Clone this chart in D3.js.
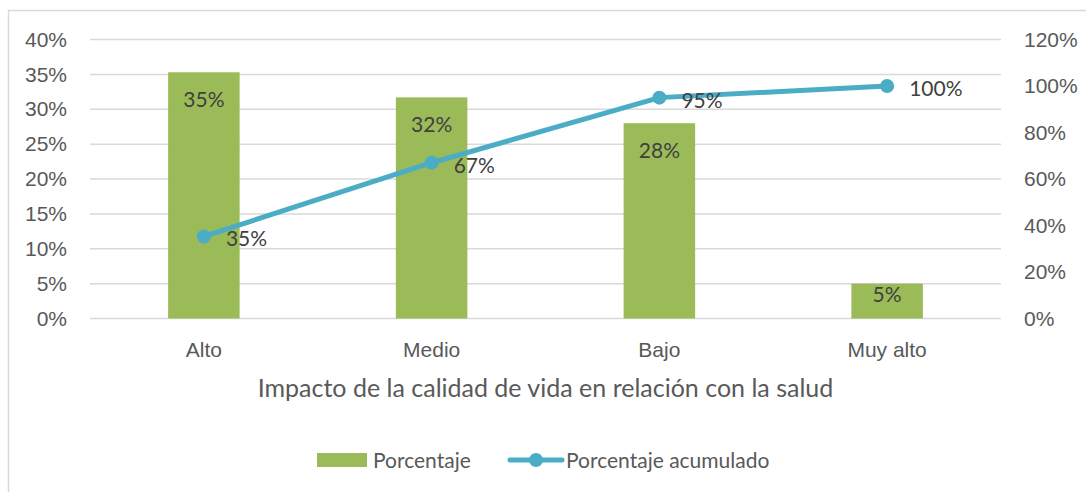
<!DOCTYPE html>
<html>
<head>
<meta charset="utf-8">
<script src="https://cdn.jsdelivr.net/npm/d3@7"></script>
<style>
  body { margin: 0; background: #fff; }
  svg { display: block; font-family: Lato, "Open Sans", sans-serif; }
</style>
</head>
<body>
<svg id="chart" width="1086" height="492"></svg>
<script>
const categories = ["Alto", "Medio", "Bajo", "Muy alto"];
const porcentaje = [35.3, 31.7, 28.0, 5.0];
const acumulado = [35.3, 67.0, 95.0, 100.0];
const leftTicks = [0, 5, 10, 15, 20, 25, 30, 35, 40];
const rightTicks = [0, 20, 40, 60, 80, 100, 120];
const xTitle = "Impacto de la calidad de vida en relación con la salud";
const legendLabels = ["Porcentaje", "Porcentaje acumulado"];

const width = 1086;
const height = 492;
const margin = { top: 39.5, right: 85, bottom: 173.5, left: 90 };
const barColor = "#9BBB59";
const lineColor = "#4BACC6";
const textColor = "#595959";
const fontSize = "21px";

const svg = d3.select("#chart");

// outer frame (partly cut off like the original)
svg.append("rect")
  .attr("x", 8.5).attr("y", 10.5)
  .attr("width", 1100).attr("height", 500)
  .attr("fill", "none")
  .attr("stroke", "#D9D9D9")
  .attr("stroke-width", 1.5);

const x = d3.scaleBand()
  .domain(categories)
  .range([margin.left, width - margin.right])
  .paddingInner(0.686)
  .paddingOuter(0.343);

const yLeft = d3.scaleLinear()
  .domain([0, 40])
  .range([height - margin.bottom, margin.top]);

const yRight = d3.scaleLinear()
  .domain([0, 120])
  .range([height - margin.bottom, margin.top]);

// gridlines
svg.append("g")
  .selectAll("line")
  .data(leftTicks)
  .join("line")
  .attr("x1", margin.left)
  .attr("x2", width - margin.right)
  .attr("y1", d => yLeft(d))
  .attr("y2", d => yLeft(d))
  .attr("stroke", "#D9D9D9")
  .attr("stroke-width", 1.5);

// left axis
const leftAxis = svg.append("g")
  .attr("transform", `translate(${margin.left - 23}, 0)`)
  .call(d3.axisLeft(yLeft).tickValues(leftTicks).tickFormat(d => d + "%").tickSize(0).tickPadding(0));
leftAxis.select(".domain").remove();
leftAxis.selectAll("text")
  .attr("fill", textColor)
  .style("font-size", fontSize);

// right axis
const rightAxis = svg.append("g")
  .attr("transform", `translate(${width - margin.right + 23}, 0)`)
  .call(d3.axisRight(yRight).tickValues(rightTicks).tickFormat(d => d + "%").tickSize(0).tickPadding(0));
rightAxis.select(".domain").remove();
rightAxis.selectAll("text")
  .attr("fill", textColor)
  .style("font-size", fontSize);

// bottom axis
const bottomAxis = svg.append("g")
  .attr("transform", `translate(0, ${height - margin.bottom})`)
  .call(d3.axisBottom(x).tickSize(0).tickPadding(24));
bottomAxis.select(".domain").remove();
bottomAxis.selectAll("text")
  .attr("fill", textColor)
  .style("font-size", fontSize);

// axis title
svg.append("text")
  .attr("x", (margin.left + width - margin.right) / 2)
  .attr("y", 397)
  .attr("text-anchor", "middle")
  .attr("fill", textColor)
  .style("font-size", "25px")
  .text(xTitle);

// bars
svg.append("g")
  .selectAll("rect")
  .data(porcentaje)
  .join("rect")
  .attr("x", (d, i) => x(categories[i]))
  .attr("y", d => yLeft(d))
  .attr("width", x.bandwidth())
  .attr("height", d => yLeft(0) - yLeft(d))
  .attr("fill", barColor);

// bar labels (short bars get the label pulled up toward the top)
svg.append("g")
  .selectAll("text")
  .data(porcentaje)
  .join("text")
  .attr("x", (d, i) => x(categories[i]) + x.bandwidth() / 2)
  .attr("y", d => yLeft(d) + (yLeft(0) - yLeft(d) < 50 ? 18 : 35))
  .attr("text-anchor", "middle")
  .attr("fill", "#404040")
  .style("font-size", fontSize)
  .text(d => Math.round(d) + "%");

// cumulative line
const line = d3.line()
  .x((d, i) => x(categories[i]) + x.bandwidth() / 2)
  .y(d => yRight(d));

svg.append("path")
  .datum(acumulado)
  .attr("d", line)
  .attr("fill", "none")
  .attr("stroke", lineColor)
  .attr("stroke-width", 5)
  .attr("stroke-linejoin", "round");

svg.append("g")
  .selectAll("circle")
  .data(acumulado)
  .join("circle")
  .attr("cx", (d, i) => x(categories[i]) + x.bandwidth() / 2)
  .attr("cy", d => yRight(d))
  .attr("r", 7)
  .attr("fill", lineColor);

svg.append("g")
  .selectAll("text")
  .data(acumulado)
  .join("text")
  .attr("x", (d, i) => x(categories[i]) + x.bandwidth() / 2 + 22)
  .attr("y", d => yRight(d) + 10)
  .attr("fill", "#404040")
  .style("font-size", fontSize)
  .text(d => Math.round(d) + "%");

// legend
const legend = svg.append("g");
legend.append("rect")
  .attr("x", 317).attr("y", 453)
  .attr("width", 50).attr("height", 14)
  .attr("fill", barColor);
legend.append("text")
  .attr("x", 373).attr("y", 468)
  .attr("fill", textColor)
  .style("font-size", fontSize)
  .text(legendLabels[0]);

legend.append("line")
  .attr("x1", 510).attr("x2", 562)
  .attr("y1", 460).attr("y2", 460)
  .attr("stroke", lineColor)
  .attr("stroke-width", 5)
  .attr("stroke-linecap", "round");
legend.append("circle")
  .attr("cx", 536).attr("cy", 460)
  .attr("r", 7)
  .attr("fill", lineColor);
legend.append("text")
  .attr("x", 566).attr("y", 468)
  .attr("fill", textColor)
  .style("font-size", fontSize)
  .text(legendLabels[1]);
</script>
</body>
</html>
